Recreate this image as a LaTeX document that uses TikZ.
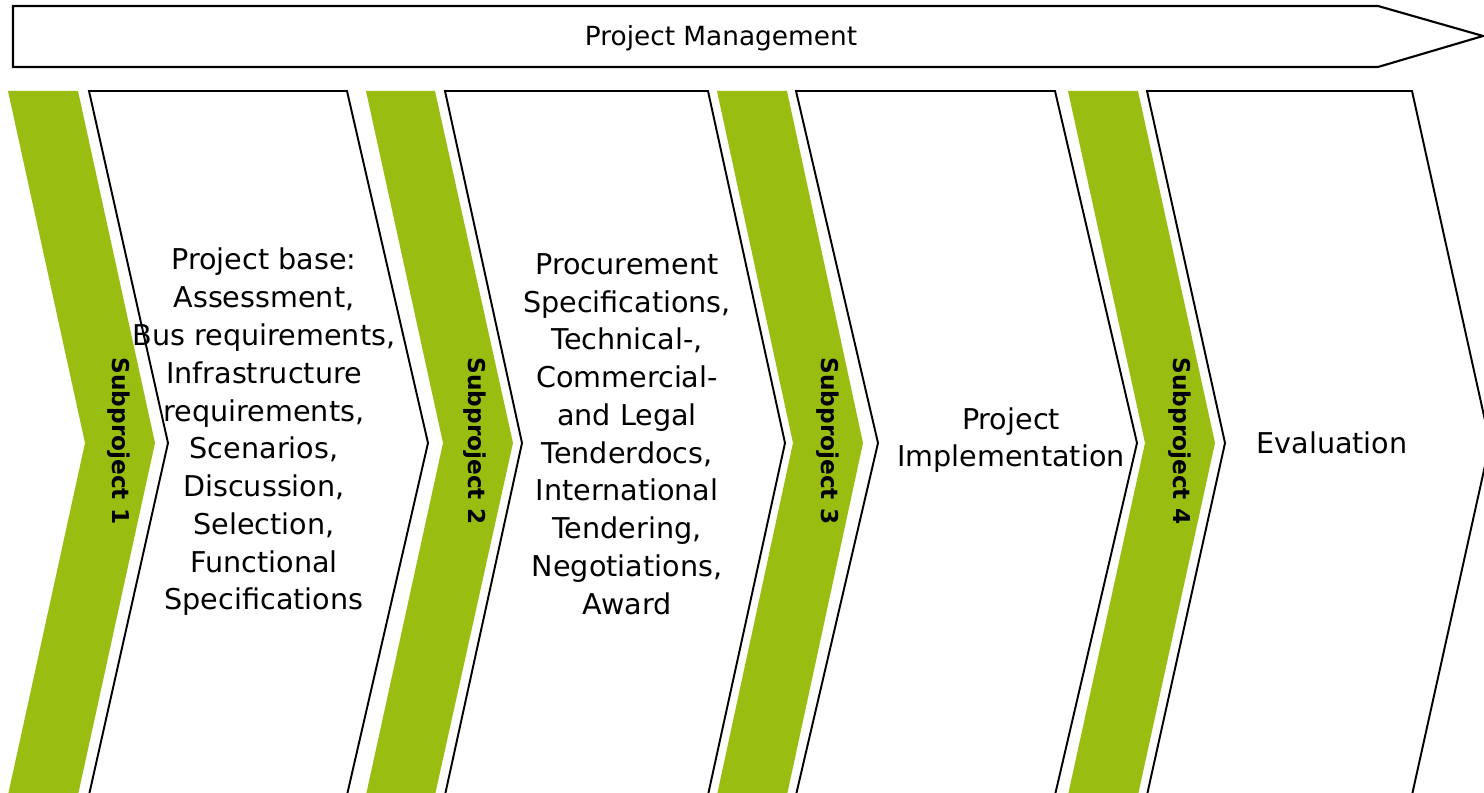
\documentclass[tikz,border=0pt]{standalone}
\usepackage{fontspec}
\setmainfont{DejaVu Sans}
\definecolor{subgreen}{RGB}{153,189,16}

\tikzset{
  subbar/.style={fill=subgreen, draw=none},
  phasebar/.style={draw=black, line width=1.1pt, fill=white},
  phasetext/.style={align=center, font=\fontsize{16.3}{21.5}\selectfont},
  subtext/.style={rotate=-90, font=\fontsize{13.2}{16}\selectfont\bfseries},
}

\begin{document}
\begin{tikzpicture}[x=0.02cm,y=-0.02cm]
%\draw[step=50,gray,very thin] (0,0) grid (1484,793);
\useasboundingbox (0,0) rectangle (1484,793);
\clip (0,0) rectangle (1484,793);

% management arrow
\draw[line width=1.2pt] (13,6) -- (1378,6) -- (1483,36) -- (1378,67) -- (13,67) -- cycle;
\node[font=\fontsize{15}{18}\selectfont] (pm) at (721,38) {Project Management};

% subproject 1
\fill[subbar] (8,91) -- (78,91) -- (155,443) -- (78,795) -- (8,795) -- (85,443) -- cycle;
\draw[phasebar] (89,91) -- (347,91) -- (428,443) -- (347,795) -- (89,795) -- (168,443) -- cycle;
\node[subtext] (sp1) at (119,441) {Subproject 1};
\node[phasetext] (base) at (264,432) {Project base:\\ Assessment,\\ Bus requirements,\\ Infrastructure\\ requirements,\\ Scenarios,\\ Discussion,\\ Selection,\\ Functional\\ Specifications};

% subproject 2
\fill[subbar] (366,91) -- (435,91) -- (513,443) -- (435,795) -- (366,795) -- (443,443) -- cycle;
\draw[phasebar] (445,91) -- (708,91) -- (785,443) -- (708,795) -- (445,795) -- (522,443) -- cycle;
\node[subtext] (sp2) at (475,441) {Subproject 2};
\node[phasetext] (tender) at (627,434) {Procurement\\ Specifications,\\ Technical-,\\ Commercial-\\ and Legal\\ Tenderdocs,\\ International\\ Tendering,\\ Negotiations,\\ Award};

% subproject 3
\fill[subbar] (717,91) -- (787,91) -- (863,443) -- (787,795) -- (717,795) -- (793,443) -- cycle;
\draw[phasebar] (796,91) -- (1055,91) -- (1137,443) -- (1055,795) -- (796,795) -- (878,443) -- cycle;
\node[subtext] (sp3) at (828,441) {Subproject 3};
\node[phasetext] (impl) at (1011,440) {Project\\ Implementation};

% subproject 4
\fill[subbar] (1068,91) -- (1138,91) -- (1215,443) -- (1138,795) -- (1068,795) -- (1145,443) -- cycle;
\draw[phasebar] (1147,91) -- (1412,91) -- (1490,443) -- (1412,795) -- (1147,795) -- (1225,443) -- cycle;
\node[subtext] (sp4) at (1180,441) {Subproject 4};
\node[phasetext] (eval) at (1332,443) {Evaluation};

\end{tikzpicture}
\end{document}
